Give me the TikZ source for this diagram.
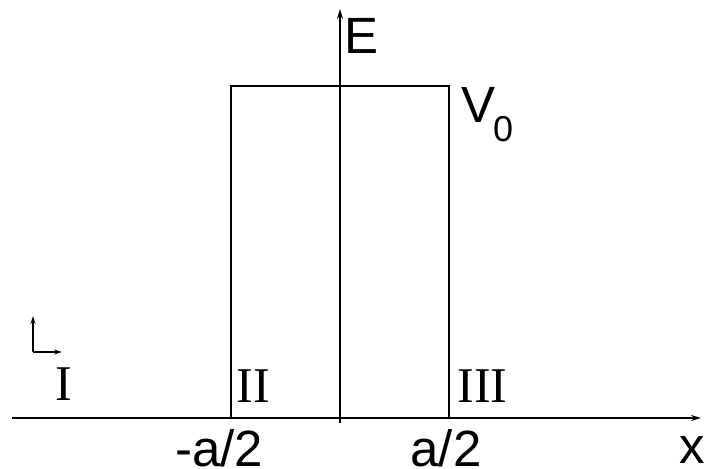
\documentclass[tikz,border=0pt]{standalone}
\usepackage{fontspec}
\setmainfont{Liberation Serif}
\setsansfont{Liberation Sans}
\usetikzlibrary{arrows.meta}
\begin{document}
\begin{tikzpicture}[x=1pt,y=-1pt,
  axis/.style={line width=1.6pt,-{Stealth[length=10pt,width=6pt]}},
  barrier/.style={line width=1.2pt},
  small/.style={line width=1.3pt,-{Stealth[length=8pt,width=5pt]}},
  lbl/.style={inner sep=0pt,font=\sffamily\fontsize{51}{51}\selectfont},
  sub/.style={inner sep=0pt,font=\sffamily\fontsize{36}{36}\selectfont},
  roman/.style={inner sep=0pt,font=\rmfamily\fontsize{50}{50}\selectfont}]
\useasboundingbox (0,0) rectangle (706,468);
% coordinates
\coordinate (xs) at (12,418);
\coordinate (xe) at (701,418);
\coordinate (es) at (340,423);
\coordinate (ee) at (340,9);
\coordinate (bl) at (231,418);
\coordinate (tl) at (231,86);
\coordinate (tr) at (449,86);
\coordinate (br) at (449,418);
\coordinate (so) at (33,352);
\coordinate (sy) at (33,316);
\coordinate (sx) at (62,352);
% axes
\draw[axis] (xs) -- (xe);
\draw[axis] (es) -- (ee);
% barrier
\draw[barrier] (bl) -- (tl) -- (tr) -- (br);
% small axes symbol
\draw[small] (so) -- (sy);
\draw[small] (so) -- (sx);
% labels
\node[lbl,anchor=base west] (E) at (344,54) {E};
\node[lbl,anchor=base west] (V) at (461,123) {V};
\node[sub,anchor=base west] (V0) at (493,142) {0};
\node[lbl,anchor=base] (xl) at (692.5,463) {x};
\node[lbl,anchor=base] (ma) at (219,466) {-a/2};
\node[lbl,anchor=base] (pa) at (446,466) {a/2};
\node[roman,anchor=base] (r1) at (64,400) {I};
\node[roman,anchor=base] (r2) at (253,402) {II};
\node[roman,anchor=base] (r3) at (482.5,402) {III};
\end{tikzpicture}
\end{document}
